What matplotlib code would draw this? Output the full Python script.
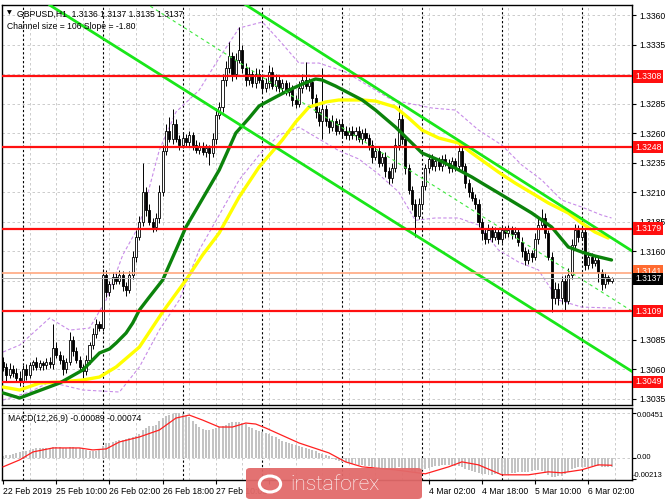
import matplotlib
matplotlib.use('Agg')
import matplotlib.pyplot as plt
from matplotlib.transforms import blended_transform_factory as btf
from matplotlib.patches import FancyBboxPatch, Circle
import numpy as np

# ---------------- data ----------------
first_open = 1.3066
closes = [
    1.3062, 1.3055, 1.3060, 1.3057, 1.3052, 1.3050, 1.3060, 1.3055, 1.3063, 1.3066,
    1.3062, 1.3065, 1.3063, 1.3066, 1.3064, 1.3078, 1.3072, 1.3068, 1.3060, 1.3066,
    1.3085, 1.3075, 1.3068, 1.3062, 1.3058, 1.3068, 1.3080, 1.3090, 1.3098, 1.3095,
    1.3140, 1.3125, 1.3132, 1.3138, 1.3135, 1.3140, 1.3130, 1.3127, 1.3140, 1.3155,
    1.3172, 1.3185, 1.3210, 1.3195, 1.3185, 1.3180, 1.3188, 1.3210, 1.3245, 1.3262,
    1.3255, 1.3268, 1.3255, 1.3250, 1.3256, 1.3252, 1.3258, 1.3250, 1.3246, 1.3249,
    1.3244, 1.3247, 1.3243, 1.3255, 1.3275, 1.3282, 1.3305, 1.3315, 1.3325, 1.3310,
    1.3322, 1.3330, 1.3315, 1.3305, 1.3310, 1.3302, 1.3310, 1.3305, 1.3298, 1.3302,
    1.3312, 1.3300, 1.3305, 1.3298, 1.3302, 1.3295, 1.3298, 1.3288, 1.3285, 1.3298,
    1.3305, 1.3300, 1.3303, 1.3290, 1.3278, 1.3270, 1.3280, 1.3270, 1.3265, 1.3270,
    1.3262, 1.3268, 1.3262, 1.3258, 1.3262, 1.3258, 1.3262, 1.3255, 1.3260, 1.3256,
    1.3250, 1.3240, 1.3245, 1.3235, 1.3240, 1.3228, 1.3222, 1.3230, 1.3250, 1.3272,
    1.3255, 1.3230, 1.3212, 1.3200, 1.3190, 1.3200, 1.3215, 1.3230, 1.3238, 1.3232,
    1.3236, 1.3232, 1.3238, 1.3235, 1.3230, 1.3236, 1.3232, 1.3245, 1.3232, 1.3218,
    1.3210, 1.3205, 1.3200, 1.3185, 1.3175, 1.3170, 1.3178, 1.3172, 1.3176, 1.3170,
    1.3178, 1.3175, 1.3178, 1.3174, 1.3176, 1.3168, 1.3160, 1.3152, 1.3158, 1.3155,
    1.3170, 1.3182, 1.3188, 1.3175, 1.3155, 1.3120, 1.3128, 1.3120, 1.3135, 1.3118,
    1.3140, 1.3165, 1.3178, 1.3172, 1.3176, 1.3148, 1.3155, 1.3150, 1.3152, 1.3142,
    1.3132, 1.3138, 1.3135, 1.3137,
]
upper_wick_pips = [
    4, 3, 5, 3, 4, 6, 3, 4, 3, 2, 4, 3, 2, 3, 4, 20, 5, 3, 4, 3,
    6, 3, 4, 3, 2, 4, 3, 5, 4, 3, 5, 4, 3, 4, 3, 4, 3, 4, 3, 5,
    6, 5, 25, 4, 5, 3, 4, 6, 5, 6, 12, 12, 4, 3, 5, 3, 4, 3, 4, 3,
    3, 4, 3, 5, 6, 4, 5, 6, 12, 4, 6, 20, 5, 4, 6, 3, 5, 4, 3, 5,
    6, 4, 5, 3, 4, 3, 5, 3, 4, 6, 5, 15, 4, 3, 3, 4, 35, 4, 3, 5,
    3, 4, 3, 4, 3, 4, 3, 4, 3, 4, 3, 4, 3, 4, 3, 4, 3, 5, 6, 12,
    4, 3, 4, 3, 4, 5, 4, 4, 3, 4, 3, 4, 3, 4, 3, 4, 3, 8, 4, 3,
    3, 4, 3, 4, 3, 4, 5, 3, 4, 3, 4, 3, 4, 3, 4, 3, 4, 3, 4, 3,
    5, 6, 8, 4, 3, 4, 6, 5, 4, 5, 6, 5, 5, 4, 5, 3, 4, 3, 4, 3,
    3, 4, 2, 1,
]
lower_wick_pips = [
    4, 5, 3, 4, 3, 4, 3, 4, 3, 4, 3, 3, 4, 3, 3, 4, 3, 4, 5, 3,
    3, 4, 3, 4, 6, 3, 4, 3, 4, 3, 3, 4, 3, 4, 3, 3, 4, 5, 3, 4,
    4, 3, 4, 5, 3, 4, 3, 4, 3, 4, 3, 4, 3, 4, 3, 4, 3, 4, 3, 4,
    3, 4, 10, 3, 4, 3, 4, 5, 4, 6, 4, 3, 4, 5, 4, 3, 4, 3, 4, 3,
    4, 3, 4, 3, 4, 3, 4, 5, 4, 3, 4, 3, 4, 6, 5, 4, 15, 4, 5, 3,
    4, 3, 6, 3, 4, 3, 4, 3, 4, 3, 4, 5, 3, 4, 3, 5, 5, 4, 3, 4,
    4, 5, 4, 5, 18, 3, 4, 3, 4, 3, 4, 3, 4, 3, 4, 3, 4, 3, 4, 5,
    4, 3, 4, 5, 6, 4, 3, 4, 3, 4, 3, 4, 3, 4, 3, 4, 5, 4, 3, 4,
    3, 4, 3, 4, 3, 12, 5, 6, 5, 8, 3, 4, 3, 4, 3, 4, 3, 4, 3, 8,
    5, 3, 3, 2,
]

# moving averages (bar index, price)
ma_green_idx = [0, 5, 9, 17, 24, 29, 32, 34, 37, 39, 41, 44, 48, 52, 55, 58, 61, 65, 70,
                74, 77, 82, 86, 90, 94, 96, 100, 104, 108, 112, 118, 122, 126, 131, 136,
                141, 145, 149, 154, 159, 162, 165, 170, 174, 178, 183]
ma_green_val = [1.30397, 1.30354, 1.30397, 1.30481, 1.30592, 1.30736, 1.30770, 1.30820,
                1.30905, 1.30990, 1.31100, 1.31210, 1.31354, 1.31609, 1.31803, 1.31947,
                1.32092, 1.32286, 1.32600, 1.32727, 1.32829, 1.32905, 1.32964, 1.33015,
                1.33058, 1.33049, 1.32998, 1.32939, 1.32880, 1.32795, 1.32651, 1.32541,
                1.32431, 1.32371, 1.32303, 1.32227, 1.32159, 1.32092, 1.32007, 1.31922,
                1.31863, 1.31803, 1.31634, 1.31592, 1.31558, 1.31524]
ma_yellow_idx = [0, 5, 11, 17, 24, 29, 34, 41, 48, 55, 60, 65, 71, 77, 84, 88, 92, 97,
                 101, 104, 108, 112, 118, 122, 126, 131, 137, 141, 149, 154, 159, 164,
                 170, 174, 178, 182]
ma_yellow_val = [1.30447, 1.30422, 1.30481, 1.30490, 1.30507, 1.30532, 1.30617, 1.30786,
                 1.31083, 1.31354, 1.31566, 1.31753, 1.32058, 1.32312, 1.32541, 1.32693,
                 1.32820, 1.32863, 1.32880, 1.32880, 1.32880, 1.32871, 1.32820, 1.32727,
                 1.32625, 1.32558, 1.32515, 1.32430, 1.32269, 1.32176, 1.32092, 1.32007,
                 1.31922, 1.31837, 1.31761, 1.31710]

# envelope bands (bar index, price)
band_up_idx = [0, 5, 14, 20, 26, 31, 36, 41, 47, 52, 59, 65, 71, 78, 83, 89, 95, 103,
               111, 117, 123, 129, 136, 143, 150, 156, 162, 168, 174, 180, 183]
band_up_val = [1.30744, 1.30803, 1.31032, 1.30930, 1.30947, 1.31185, 1.31566, 1.31820,
               1.32456, 1.32778, 1.32964, 1.33236, 1.33490, 1.33541, 1.33388, 1.33193,
               1.33193, 1.33117, 1.32981, 1.32880, 1.32846, 1.32812, 1.32795, 1.32625,
               1.32498, 1.32329, 1.32202, 1.32032, 1.31973, 1.31905, 1.31880]
band_dn_idx = [0, 8, 14, 24, 35, 41, 47, 53, 59, 65, 71, 77, 83, 89, 95, 101, 107, 113,
               119, 124, 130, 137, 143, 149, 155, 161, 167, 174, 183]
band_dn_val = [1.30337, 1.30405, 1.30490, 1.30422, 1.30405, 1.30617, 1.30931, 1.31185,
               1.31609, 1.31905, 1.32202, 1.32414, 1.32583, 1.32650, 1.32550, 1.32450,
               1.32380, 1.32250, 1.32100, 1.31860, 1.31880, 1.31880, 1.31820, 1.31609,
               1.31507, 1.31440, 1.31185, 1.31125, 1.31117]

# regression channel (bar index, price) endpoints
chan_up = [(71.3, 1.33717), (189.2, 1.31600)]
chan_dn = [(14.1, 1.33683), (189.2, 1.30579)]

levels = [1.3308, 1.3248, 1.3179, 1.3109, 1.3049]
bid = 1.3137
ask_line = 1.3141

price_ticks = [1.3360, 1.3335, 1.3285, 1.3260, 1.3235, 1.3210, 1.3185, 1.3160,
               1.3085, 1.3060, 1.3035]

# MACD main (histogram), units of 0.0001
macd = [
    2, 3, 3, 4, 5, 6, 7, 7, 8, 9, 10, 10, 10, 10, 10, 11, 11, 11, 10, 10,
    11, 11, 10, 10, 9, 8, 7, 7, 7, 8, 12, 15, 15, 16, 17, 18, 18, 19, 20, 21,
    22, 24, 28, 30, 32, 32, 33, 37, 40, 42, 43, 44, 45, 45, 44, 42, 41, 37, 34, 31,
    29, 28, 28, 29, 30, 31, 32, 33, 35, 36, 36, 36, 35, 34, 31, 30, 28, 27, 26, 25,
    24, 22, 21, 19, 17, 16, 15, 14, 13, 12, 11, 10, 9, 8, 7, 5, 4, 3, 2, -1,
    -2, -3, -4, -4, -5, -6, -6, -7, -7, -8, -8, -9, -9, -10, -10, -11, -11, -12, -10, -9,
    -10, -11, -12, -13, -14, -13, -12, -11, -10, -9, -8, -8, -7, -7, -7, -7, -8, -8, -9, -11,
    -12, -13, -14, -15, -16, -16, -17, -17, -16, -16, -16, -16, -16, -15, -15, -14, -14, -14, -14, -13,
    -12, -12, -13, -15, -17, -19, -19, -18, -18, -16, -14, -11, -10, -9, -9, -9, -9, -8, -8, -8,
    -9, -9, -9, -9,
]
sig_idx = [0, 5, 9, 15, 23, 27, 31, 35, 41, 47, 52, 56, 60, 65, 69, 73, 76, 79, 89, 98,
           103, 108, 118, 127, 134, 138, 143, 150, 158, 164, 168, 174, 179, 183]
sig_val = [-9, -2, 6, 10, 10, 8, 9, 16, 21, 28, 40, 43, 38, 31, 31, 35, 34, 30, 15, 5,
           -4, -9, -12, -16, -9, -4, -7, -17, -17, -14, -15, -12, -7, -7.4]
macd_ticks = [45.1, 0, -21.3]
macd_tick_lbl = ['0.00451', '0.00', '-0.00213']

tick_idx = [0, 16, 32, 48, 64, 80, 96, 112, 128, 144, 160, 176]
tick_lbl = ['22 Feb 2019', '25 Feb 10:00', '26 Feb 02:00', '26 Feb 18:00', '27 Feb 10:00',
            '28 Feb 02:00', '28 Feb 18:00', '1 Mar 10:00', '4 Mar 02:00', '4 Mar 18:00',
            '5 Mar 10:00', '6 Mar 02:00']
day_idx = [6, 30, 54, 78, 102, 126, 150, 174]

# ---------------- figure ----------------
plt.rcParams['font.family'] = ['Liberation Sans', 'DejaVu Sans']
FS = 6.2
W, H = 665, 499
fig = plt.figure(figsize=(W / 100, H / 100), dpi=100)
fig.patch.set_facecolor('white')


def axpos(x0, x1, y0, y1):
    return [x0 / W, 1 - y1 / H, (x1 - x0) / W, (y1 - y0) / H]


ax = fig.add_axes(axpos(2, 632, 5, 405))
ax2 = fig.add_axes(axpos(2, 632, 408, 480))
XL = (-0.32, 189.16)
for a in (ax, ax2):
    a.set_xlim(*XL)
    for s in a.spines.values():
        s.set_linewidth(1.0)
        s.set_color('black')
ax.set_ylim(1.30295, 1.33685)
ax2.set_ylim(-22.2, 50.1)

GRID = dict(color='#c4c4c4', lw=0.6, ls=(0, (3, 3)), zorder=0)
for a in (ax, ax2):
    for k in range(8, 190, 8):
        a.axvline(k, **GRID)
    for d in day_idx:
        a.axvline(d, color='black', lw=0.8, ls=(0, (2, 2)), zorder=0.5)
for p in np.arange(1.3035, 1.3370, 0.0025):
    ax.axhline(p, **GRID)
ax2.axhline(0, **GRID)
ax2.axhline(45.1, **GRID)

n = len(closes)
idx = np.arange(n)
c = np.array(closes)
o = np.array([first_open] + closes[:-1])
hi = np.maximum(o, c) + np.array(upper_wick_pips) * 1e-4
lo = np.minimum(o, c) - np.array(lower_wick_pips) * 1e-4

# bands
BAND = dict(color='#c88ce8', lw=0.8, ls=(0, (3, 2)), zorder=1)
ax.plot(band_up_idx, band_up_val, **BAND)
ax.plot(band_dn_idx, band_dn_val, **BAND)

# candles
ax.vlines(idx, lo, hi, color='black', lw=0.7, zorder=3)
bull = c >= o
body_b = np.minimum(o, c)
body_h = np.maximum(np.abs(c - o), 0.00004)
ax.bar(idx[bull], body_h[bull], bottom=body_b[bull], width=0.62,
       facecolor='white', edgecolor='black', lw=0.6, zorder=3.2)
ax.bar(idx[~bull], body_h[~bull], bottom=body_b[~bull], width=0.62,
       facecolor='black', edgecolor='black', lw=0.6, zorder=3.2)

# moving averages
ax.plot(ma_yellow_idx, ma_yellow_val, color='#ffff00', lw=2.4, zorder=4,
        solid_capstyle='round', solid_joinstyle='round')
ax.plot(ma_green_idx, ma_green_val, color='#0b830b', lw=2.4, zorder=4.1,
        solid_capstyle='round', solid_joinstyle='round')

# channel
cu = np.array(chan_up)
cd = np.array(chan_dn)
ax.plot(cu[:, 0], cu[:, 1], color='#19e619', lw=2.0, zorder=5)
ax.plot(cd[:, 0], cd[:, 1], color='#19e619', lw=2.0, zorder=5)
sl = (cu[1, 1] - cu[0, 1]) / (cu[1, 0] - cu[0, 0])
up_at = lambda t: cu[0, 1] + sl * (t - cu[0, 0])
mid_x = [cd[0, 0], cd[1, 0]]
mid_y = [(up_at(cd[0, 0]) + cd[0, 1]) / 2, (up_at(cd[1, 0]) + cd[1, 1]) / 2]
ax.plot(mid_x, mid_y, color='#3ee83e', lw=0.8, ls=(0, (3, 3)), zorder=5)

# horizontal levels
for lv in levels:
    ax.axhline(lv, color='#ff1010', lw=1.6, zorder=6)
ax.axhline(ask_line, color='#ffa880', lw=1.2, zorder=5.5)
ax.axhline(bid, color='#b0b0b0', lw=0.7, zorder=5.4)

# right axis
ax.yaxis.tick_right()
ax.set_yticks(price_ticks)
ax.set_yticklabels(['%.4f' % p for p in price_ticks], fontsize=FS)
ax.tick_params(axis='y', length=3, width=0.8, pad=2)
ax.set_xticks([])
tr = btf(ax.transAxes, ax.transData)
box = dict(boxstyle='square,pad=0.2', lw=0)
ax.text(1.0048, ask_line + 0.00016, '1.3141', transform=tr, fontsize=FS, color='white',
        va='center', ha='left', bbox=dict(box, fc='#ff6a30'), zorder=10, clip_on=False)
for lv in levels:
    ax.text(1.0048, lv, '%.4f' % lv, transform=tr, fontsize=FS, color='white',
            va='center', ha='left', bbox=dict(box, fc='#ff1010'), zorder=10, clip_on=False)
ax.text(1.0048, bid - 0.00005, '%.4f' % bid, transform=tr, fontsize=FS, color='white',
        va='center', ha='left', bbox=dict(box, fc='black'), zorder=11, clip_on=False)

# titles
ax.text(0.008, 0.988, '\u25bc', transform=ax.transAxes, fontsize=4.5, va='top', ha='left',
        family='DejaVu Sans', zorder=12)
ax.text(0.024, 0.988, 'GBPUSD,H1  1.3136 1.3137 1.3135 1.3137', transform=ax.transAxes,
        fontsize=FS, va='top', ha='left', zorder=12)
ax.text(0.008, 0.958, 'Channel size = 106 Slope = -1.80', transform=ax.transAxes,
        fontsize=FS, va='top', ha='left', zorder=12)

# MACD
ax2.bar(idx, macd, width=0.6, color='#c3c3c3', zorder=2)
ax2.plot(sig_idx, sig_val, color='#ff2020', lw=0.9, zorder=3)
ax2.yaxis.tick_right()
ax2.set_yticks(macd_ticks)
ax2.set_yticklabels([])
ax2.tick_params(axis='y', length=3, width=0.8, pad=1)
tr2 = btf(ax2.transAxes, ax2.transData)
label_y = [43.0, 0, -17.5]   # top/bottom labels kept inside the panel, as in the original
label_x = [1.0075, 1.0075, 1.0016]
for v, xx, s in zip(label_y, label_x, macd_tick_lbl):
    ax2.text(xx, v, s, transform=tr2, fontsize=5.5, va='center', ha='left',
             clip_on=False)
ax2.text(0.009, 0.92, 'MACD(12,26,9) -0.00089 -0.00074', transform=ax2.transAxes,
         fontsize=FS, va='top', ha='left', zorder=12)
ax2.set_xticks(tick_idx)
# labels that sit fully under the logo are hidden in the original
hidden = {'28 Feb 02:00', '28 Feb 18:00', '1 Mar 10:00'}
ax2.set_xticklabels([('' if t in hidden else t) for t in tick_lbl], fontsize=FS)
for t in ax2.get_xticklabels():
    t.set_ha('left')
ax2.tick_params(axis='x', length=3, width=0.8, pad=2)

# logo
fx = lambda x: x / W
fy = lambda y: 1 - y / H
logo = FancyBboxPatch((fx(246), fy(499)), fx(422) - fx(246), fy(468) - fy(499),
                      boxstyle='round,pad=0,rounding_size=0.006', transform=fig.transFigure,
                      fc='#e26a6a', ec='none', alpha=0.95, zorder=20)
fig.patches.append(logo)
fig.text(fx(290), fy(485), 'instaforex', fontsize=15, color='white', family='Roboto',
         fontweight='light', va='center', ha='left', zorder=21)
ring = Circle((fx(270), fy(484)), 0.016, transform=fig.transFigure, fc='none',
              ec='white', lw=2.2, zorder=21)
fig.patches.append(ring)

fig.savefig('out.png', dpi=100, facecolor='white')
